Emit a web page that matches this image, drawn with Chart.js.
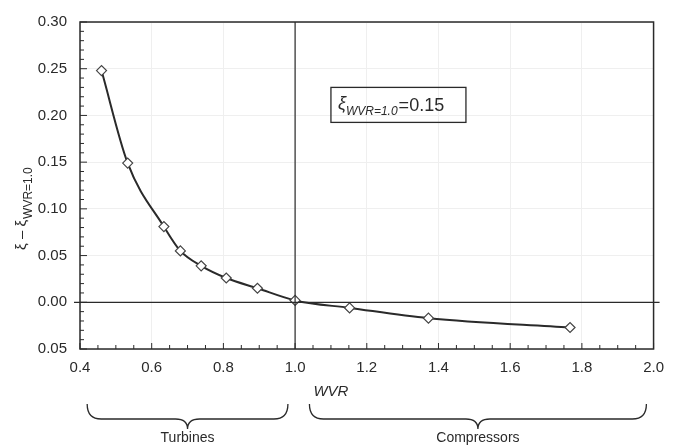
<!DOCTYPE html>
<html>
<head>
<meta charset="utf-8">
<script src="https://cdn.jsdelivr.net/npm/chart.js@4.4.1/dist/chart.umd.min.js"></script>
<style>
  html, body { margin: 0; padding: 0; background: #fff; }
  #wrap { width: 674px; height: 445px; }
</style>
</head>
<body>
<div id="wrap"><canvas id="c"></canvas></div>
<script>
// values
const wvr = [0.46, 0.533, 0.634, 0.68, 0.738, 0.808, 0.895, 1.0, 1.152, 1.372, 1.767];
const dXi = [0.248, 0.149, 0.081, 0.055, 0.039, 0.026, 0.015, 0.002, -0.006, -0.017, -0.027];

const xTicks = [0.4, 0.6, 0.8, 1.0, 1.2, 1.4, 1.6, 1.8, 2.0];
const xTickLabels = ['0.4', '0.6', '0.8', '1.0', '1.2', '1.4', '1.6', '1.8', '2.0'];
const yTicks = [-0.05, 0, 0.05, 0.10, 0.15, 0.20, 0.25, 0.30];
const yTickLabels = ['0.05', '0.00', '0.05', '0.10', '0.15', '0.20', '0.25', '0.30'];

const groups = ['Turbines', 'Compressors'];
const groupRanges = [[0.42, 0.98], [1.04, 1.98]];

const ink = '#2a2a2a';
const FONT = "'Liberation Sans', Arial, sans-serif";

// frame, axes lines at WVR=1.0 and 0, small inside ticks
const framePlugin = {
  id: 'frame',
  afterDatasetsDraw(chart) {
    const { ctx, chartArea: a, scales: { x, y } } = chart;
    ctx.save();
    ctx.strokeStyle = ink;
    ctx.lineWidth = 1.5;
    ctx.strokeRect(a.left, a.top, a.right - a.left, a.bottom - a.top);

    ctx.lineWidth = 1.2;
    ctx.beginPath();
    ctx.moveTo(x.getPixelForValue(1.0), a.top);
    ctx.lineTo(x.getPixelForValue(1.0), a.bottom);
    ctx.moveTo(a.left - 6, y.getPixelForValue(0));
    ctx.lineTo(a.right + 6, y.getPixelForValue(0));
    ctx.stroke();

    ctx.lineWidth = 1;
    ctx.beginPath();
    for (let v = -5; v <= 30; v++) {
      const py = y.getPixelForValue(v / 100);
      const len = v % 5 === 0 ? 7 : 4;
      ctx.moveTo(a.left, py);
      ctx.lineTo(a.left + len, py);
    }
    for (let v = 8; v <= 40; v++) {
      const px = x.getPixelForValue(v / 20);
      const len = v % 4 === 0 ? 6 : 4;
      ctx.moveTo(px, a.bottom);
      ctx.lineTo(px, a.bottom - len);
    }
    ctx.stroke();
    ctx.restore();
  }
};

// axis titles, annotation box and the braces below the axis
const textPlugin = {
  id: 'texts',
  afterDraw(chart) {
    const { ctx, scales: { x, y } } = chart;
    ctx.save();
    ctx.fillStyle = ink;
    ctx.strokeStyle = ink;

    // y title, rotated
    ctx.save();
    ctx.translate(22, 250);
    ctx.rotate(-Math.PI / 2);
    ctx.textBaseline = 'middle';
    ctx.textAlign = 'left';
    ctx.font = `15px ${FONT}`;
    const main = 'ξ – ξ';
    ctx.fillText(main, 0, 0);
    const w = ctx.measureText(main).width;
    ctx.font = `12px ${FONT}`;
    ctx.fillText('WVR=1.0', w + 1, 7);
    ctx.restore();

    // x title
    ctx.font = `italic 15px ${FONT}`;
    ctx.textAlign = 'center';
    ctx.textBaseline = 'middle';
    ctx.fillText('WVR', x.getPixelForValue(1.1), 392);

    // annotation box
    const bx = x.getPixelForValue(1.1), by = y.getPixelForValue(0.23);
    ctx.lineWidth = 1.3;
    ctx.strokeRect(bx, by, 135, 35);
    ctx.textAlign = 'left';
    ctx.textBaseline = 'alphabetic';
    ctx.font = `italic 18px ${FONT}`;
    ctx.fillText('ξ', bx + 7, by + 22);
    ctx.font = `italic 12px ${FONT}`;
    ctx.fillText('WVR=1.0', bx + 15, by + 28);
    const sw = ctx.measureText('WVR=1.0').width;
    ctx.font = `18px ${FONT}`;
    ctx.fillText('=0.15', bx + 15 + sw + 1, by + 24);

    // braces
    ctx.lineWidth = 1.3;
    groupRanges.forEach((r, i) => {
      const x0 = x.getPixelForValue(r[0]), x1 = x.getPixelForValue(r[1]);
      const xm = (x0 + x1) / 2;
      const top = 404, mid = 419, tip = 429;
      ctx.beginPath();
      ctx.moveTo(x0, top);
      ctx.quadraticCurveTo(x0, mid, x0 + 14, mid);
      ctx.lineTo(xm - 12, mid);
      ctx.quadraticCurveTo(xm, mid, xm, tip);
      ctx.quadraticCurveTo(xm, mid, xm + 12, mid);
      ctx.lineTo(x1 - 14, mid);
      ctx.quadraticCurveTo(x1, mid, x1, top);
      ctx.stroke();
      ctx.font = `14px ${FONT}`;
      ctx.textAlign = 'center';
      ctx.textBaseline = 'middle';
      ctx.fillText(groups[i], xm, 438);
    });
    ctx.restore();
  }
};

new Chart(document.getElementById('c'), {
  type: 'line',
  data: {
    datasets: [{
      data: wvr.map((v, i) => ({ x: v, y: dXi[i] })),
      borderColor: ink,
      borderWidth: 2,
      cubicInterpolationMode: 'monotone',
      pointStyle: 'rectRot',
      pointRadius: 5,
      pointBorderWidth: 1.2,
      pointBorderColor: '#444',
      pointBackgroundColor: '#fff'
    }]
  },
  options: {
    responsive: true,
    maintainAspectRatio: false,
    animation: false,
    layout: { padding: { left: 0, right: 13, top: 20, bottom: 0 } },
    plugins: {
      legend: { display: false },
      tooltip: { enabled: false }
    },
    scales: {
      x: {
        type: 'linear',
        min: 0.4,
        max: 2.0,
        afterBuildTicks: s => { s.ticks = xTicks.map(v => ({ value: v })); },
        afterFit: s => { s.height = 96; },
        border: { display: false },
        grid: { color: '#efefef', drawTicks: false },
        ticks: {
          padding: 10,
          color: ink,
          font: { family: FONT, size: 15 },
          callback: (v, i) => xTickLabels[i]
        }
      },
      y: {
        min: -0.05,
        max: 0.30,
        afterBuildTicks: s => { s.ticks = yTicks.map(v => ({ value: v })); },
        afterFit: s => { s.width = 80; },
        border: { display: false },
        grid: { color: '#efefef', drawTicks: false },
        ticks: {
          padding: 13,
          color: ink,
          font: { family: FONT, size: 15 },
          callback: (v, i) => yTickLabels[i]
        }
      }
    }
  },
  plugins: [framePlugin, textPlugin]
});
</script>
</body>
</html>
